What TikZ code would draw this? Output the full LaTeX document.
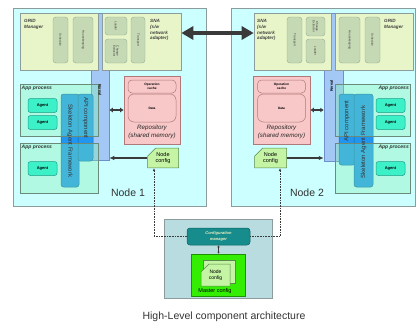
\documentclass[tikz,border=0pt]{standalone}
\usepackage{fontspec}
\setmainfont{Liberation Sans}
\usepackage{tikz}
\usetikzlibrary{positioning, arrows.meta, shapes.misc, calc}

\definecolor{nodecyan}{HTML}{CCFFFF}
\definecolor{boxgray}{HTML}{8C9C9C}
\definecolor{mgrgreen}{HTML}{E8F5C8}
\definecolor{pillgreen}{HTML}{C5D9B5}
\definecolor{pillborder}{HTML}{94AC94}
\definecolor{kernalblue}{HTML}{A4C8F5}
\definecolor{kernalborder}{HTML}{6F8FC8}
\definecolor{appgreen}{HTML}{80F0B0}
\definecolor{appborder}{HTML}{6A8A7A}
\definecolor{fwblue}{HTML}{2196F0}
\definecolor{fwborder}{HTML}{1A6A9A}
\definecolor{agentcyan}{HTML}{3CF0C8}
\definecolor{agentborder}{HTML}{20A08A}
\definecolor{repopink}{HTML}{F8C8C8}
\definecolor{repoborder}{HTML}{B07878}
\definecolor{docgreen}{HTML}{C4F4A4}
\definecolor{docborder}{HTML}{5A8A4A}
\definecolor{cfgblue}{HTML}{B8DCE0}
\definecolor{mgrteal}{HTML}{168C8C}
\definecolor{mgrtext}{HTML}{F0F0C0}
\definecolor{masterlime}{HTML}{33EE00}
\definecolor{masterborder}{HTML}{209000}
\definecolor{arrowgray}{HTML}{3A3A3A}

\begin{document}
\begin{tikzpicture}[x=1pt, y=-1pt,
    nodebox/.style={rectangle, draw=boxgray, line width=0.8pt, fill=nodecyan, inner sep=0pt},
    mgrbox/.style={rectangle, draw=boxgray, line width=0.6pt, fill=mgrgreen, inner sep=0pt},
    pill/.style={rectangle, rounded corners=3pt, draw=pillborder, line width=0.4pt, fill=pillgreen,
                 inner sep=0pt, align=center, text=black!80, font=\fontsize{2.9}{3.3}\selectfont},
    kernalbar/.style={rectangle, draw=kernalborder, line width=0.5pt, fill=kernalblue, inner sep=0pt},
    appbox/.style={rectangle, draw=appborder, line width=0.6pt, fill=appgreen, fill opacity=0.35, inner sep=0pt},
    fwbar/.style={rectangle, rounded corners=2.5pt, draw=fwborder, line width=0.5pt, fill=fwblue, inner sep=0pt},
    agent/.style={rectangle, rounded corners=2.5pt, draw=agentborder, line width=0.5pt, fill=agentcyan,
                  minimum width=29pt, minimum height=14pt, inner sep=0pt, font=\bfseries\fontsize{4}{4.5}\selectfont},
    repo/.style={rectangle, draw=repoborder, line width=0.6pt, fill=repopink, inner sep=0pt},
    repopart/.style={rectangle, rounded corners=4pt, draw=repoborder, line width=0.5pt, fill=repopink,
                     inner sep=0pt, align=center, font=\bfseries\fontsize{3.2}{3.7}\selectfont},
    cfgdoc/.style={chamfered rectangle, chamfered rectangle corners=north west, chamfered rectangle sep=4pt,
                   draw=docborder, line width=0.5pt, fill=docgreen, inner sep=0pt, align=center,
                   font=\fontsize{5.5}{6.5}\selectfont},
    mgrlabel/.style={font=\bfseries\itshape\fontsize{4.6}{5.8}\selectfont, align=left, inner sep=0pt, text=black!75},
    applabel/.style={font=\bfseries\itshape\fontsize{5}{6}\selectfont, inner sep=0pt, text=black!80},
    kernaltxt/.style={font=\bfseries\fontsize{3.8}{4}\selectfont, inner sep=0pt},
    fwtxt/.style={font=\fontsize{6}{7}\selectfont, inner sep=0pt, text=black!80},
    repotxt/.style={font=\itshape\fontsize{6.2}{7}\selectfont, inner sep=0pt, text=black!85},
    label/.style={font=\fontsize{10.5}{12}\selectfont, text=black!80},
    arrow/.style={-{Latex[length=5pt, width=4.5pt]}, line width=1.4pt, draw=arrowgray},
    dblarrow/.style={{Latex[length=3.5pt, width=5pt]}-{Latex[length=3.5pt, width=5pt]}, line width=2.4pt, draw=arrowgray},
    bigarrow/.style={{Triangle[length=12pt, width=13pt]}-{Triangle[length=12pt, width=13pt]}, line width=3.8pt, draw=arrowgray},
    cfgarrow/.style={-{Latex[length=3pt, width=2.5pt]}, densely dotted, line width=0.6pt, draw=arrowgray}
]
    \useasboundingbox (0, 0) rectangle (417, 324);

    % Nodes
    \node[nodebox, minimum width=193pt, minimum height=198pt] (node1) at (109.5, 107) {};
    \node[nodebox, minimum width=184pt, minimum height=198pt] (node2) at (323, 107) {};

    % Kernal
    \node[kernalbar, minimum width=18pt, minimum height=147pt] (kernal1) at (100, 86.5) {};
    \node[kernalbar, minimum width=19pt, minimum height=148pt] (kernal2) at (333.5, 87) {};

    % GRID manager and SNA, node 1
    \node[mgrbox, minimum width=78pt, minimum height=57pt] (grid1) at (59, 41.5) {};
    \node[mgrbox, minimum width=79pt, minimum height=57pt] (sna1) at (141.5, 41.5) {};
    \node[mgrlabel, anchor=north west] (gridlbl1) at (24, 19) {GRID\\Manager};
    \node[mgrlabel, anchor=north west] (snalbl1) at (150, 19) {SNA\\(s/w\\network\\adapter)};
    \node[pill, rotate=-90, minimum width=46pt, minimum height=15pt] (sched1) at (60.5, 40) {Schedule};
    \node[pill, rotate=-90, minimum width=46pt, minimum height=20pt] (house1) at (83, 40) {Housekeeping};
    \node[pill, rotate=-90, minimum width=18pt, minimum height=22pt] (loader1) at (116, 26) {Loader};
    \node[pill, rotate=-90, minimum width=24pt, minimum height=22pt] (change1) at (116, 51) {Change\\Extractor};
    \node[pill, rotate=-90, minimum width=46pt, minimum height=14pt] (transp1) at (138, 40) {Transport};

    % SNA and GRID manager, node 2
    \node[mgrbox, minimum width=77pt, minimum height=57pt] (sna2) at (292.5, 41.5) {};
    \node[mgrbox, minimum width=78pt, minimum height=57pt] (grid2) at (374, 41.5) {};
    \node[mgrlabel, anchor=north west] (snalbl2) at (257, 19) {SNA\\(s/w\\network\\adapter)};
    \node[mgrlabel, anchor=north west] (gridlbl2) at (384, 19) {GRID\\Manager};
    \node[pill, rotate=-90, minimum width=46pt, minimum height=15pt] (transp2) at (294.5, 40) {Transport};
    \node[pill, rotate=-90, minimum width=19pt, minimum height=19pt] (change2) at (315.5, 26.5) {Change\\Extractor};
    \node[pill, rotate=-90, minimum width=24pt, minimum height=19pt] (loader2) at (315.5, 51) {Loader};
    \node[pill, rotate=-90, minimum width=46pt, minimum height=21pt] (house2) at (349.5, 40) {Housekeeping};
    \node[pill, rotate=-90, minimum width=46pt, minimum height=15pt] (sched2) at (372.5, 40) {Schedule};

    % Agent framework, node 1
    \node[fwbar, minimum width=18pt, minimum height=93pt] (skel1) at (70, 140.5) {};
    \node[fwbar, minimum width=15pt, minimum height=67pt] (api1) at (85.5, 127.5) {};
    \node[appbox, minimum width=78pt, minimum height=52pt] (app1a) at (59, 110) {};
    \node[appbox, minimum width=78pt, minimum height=50pt] (app1b) at (59, 168) {};
    \node[fwtxt, rotate=-90] (skellbl1) at (70, 141) {Skeleton Agent Framework};
    \node[fwtxt, rotate=-90] (apilbl1) at (85.5, 118) {API component};
    \node[kernaltxt, rotate=-90] (kernallbl1) at (100, 90) {Kernal};
    \node[applabel, anchor=north west] (applbl1a) at (21.5, 86) {App process};
    \node[applabel, anchor=north west] (applbl1b) at (21.5, 145) {App process};
    \node[agent] (agent1a) at (42.5, 105.5) {Agent};
    \node[agent] (agent1b) at (42.5, 122.5) {Agent};
    \node[agent] (agent1c) at (42.5, 168.5) {Agent};

    % Agent framework, node 2
    \node[fwbar, minimum width=16pt, minimum height=71pt] (api2) at (347, 129.5) {};
    \node[fwbar, minimum width=19pt, minimum height=93pt] (skel2) at (363.5, 140.5) {};
    \node[appbox, minimum width=75pt, minimum height=52pt] (app2a) at (372.5, 110) {};
    \node[appbox, minimum width=75pt, minimum height=50pt] (app2b) at (372.5, 168) {};
    \node[fwtxt, rotate=90] (apilbl2) at (347, 121) {API component};
    \node[fwtxt, rotate=90] (skellbl2) at (363.5, 142) {Skeleton Agent Framework};
    \node[kernaltxt, rotate=90] (kernallbl2) at (331.5, 86) {Kernal};
    \node[applabel, anchor=north east] (applbl2a) at (409, 86) {App process};
    \node[applabel, anchor=north east] (applbl2b) at (409, 145) {App process};
    \node[agent] (agent2a) at (390.5, 105.5) {Agent};
    \node[agent] (agent2b) at (390.5, 122.5) {Agent};
    \node[agent] (agent2c) at (390.5, 168.5) {Agent};

    % Repository
    \node[repo, minimum width=56pt, minimum height=68pt] (repo1) at (152, 110) {};
    \node[repopart, minimum width=48pt, minimum height=13pt] (opcache1) at (152, 86.5) {Operation\\cache};
    \node[repopart, minimum width=48pt, minimum height=28pt, rounded corners=6pt] (data1) at (152, 108) {Data};
    \node[repotxt] (repolbl1) at (152, 127.5) {Repository};
    \node[repotxt] (shmlbl1) at (152, 136) {(shared memory)};
    \node[repo, minimum width=57pt, minimum height=68pt] (repo2) at (281.5, 110) {};
    \node[repopart, minimum width=48pt, minimum height=13pt] (opcache2) at (281.5, 86.5) {Operation\\cache};
    \node[repopart, minimum width=48pt, minimum height=28pt, rounded corners=6pt] (data2) at (281.5, 108) {Data};
    \node[repotxt] (repolbl2) at (281.5, 127.5) {Repository};
    \node[repotxt] (shmlbl2) at (281.5, 136) {(shared memory)};

    % Node config
    \node[cfgdoc, minimum width=31pt, minimum height=19pt] (nodecfg1) at (163, 158) {Node\\config};
    \node[cfgdoc, minimum width=32pt, minimum height=19pt] (nodecfg2) at (270.5, 158) {Node\\config};

    % Node names
    \node[label] (node1lbl) at (128, 193) {Node 1};
    \node[label] (node2lbl) at (307, 193) {Node 2};

    % Arrows
    \draw[bigarrow] ([yshift=8.5pt]sna1.east) -- ([yshift=8.5pt]sna2.west);
    \draw[dblarrow] (kernal1.east |- repo1.west) -- (repo1.west);
    \draw[dblarrow] (repo2.east) -- (kernal2.west |- repo2.east);
    \draw[arrow] (nodecfg1.west) -- (kernal1.east |- nodecfg1.west);
    \draw[arrow] (nodecfg2.east) -- (kernal2.west |- nodecfg2.east);

    % Configuration manager
    \node[rectangle, draw=boxgray, line width=0.6pt, fill=cfgblue, minimum width=108pt, minimum height=79pt] (cfgarea) at (218, 258.5) {};
    \node[rectangle, rounded corners=3pt, draw=mgrteal!70!black, line width=0.5pt, fill=mgrteal, text=mgrtext,
          minimum width=63pt, minimum height=17pt, inner sep=0pt, align=center,
          font=\bfseries\itshape\fontsize{4}{5.2}\selectfont] (cfgmgr) at (218.5, 236.5) {Configuration\\manager};
    \node[chamfered rectangle, chamfered rectangle corners=north west, chamfered rectangle sep=7pt,
          draw=masterborder, line width=0.5pt, fill=masterlime, minimum width=54pt, minimum height=42pt, inner sep=0pt] (master) at (218, 275) {};
    \node[cfgdoc, minimum width=32pt, minimum height=23pt] (mcfgback) at (219, 271.5) {};
    \node[cfgdoc, minimum width=29pt, minimum height=22pt, font=\fontsize{5}{6}\selectfont] (mcfgfront) at (215.5, 275) {Node\\config};
    \node[font=\fontsize{5.5}{6}\selectfont, inner sep=0pt] (masterlbl) at (215, 291) {Master config};
    \draw[{Latex[length=2pt, width=2.5pt]}-{Latex[length=2pt, width=2.5pt]}, line width=0.9pt, draw=arrowgray] (cfgmgr.south) -- (cfgmgr.south |- master.north);

    % Config distribution
    \draw[cfgarrow] (cfgmgr.west) -| ([xshift=-9pt]nodecfg1.south);
    \draw[cfgarrow] (cfgmgr.east) -| ([xshift=9.5pt]nodecfg2.south);

    % Title
    \node[font=\fontsize{10.5}{12}\selectfont, text=black!80] (caption) at (224, 317) {High-Level component architecture};

\end{tikzpicture}
\end{document}
